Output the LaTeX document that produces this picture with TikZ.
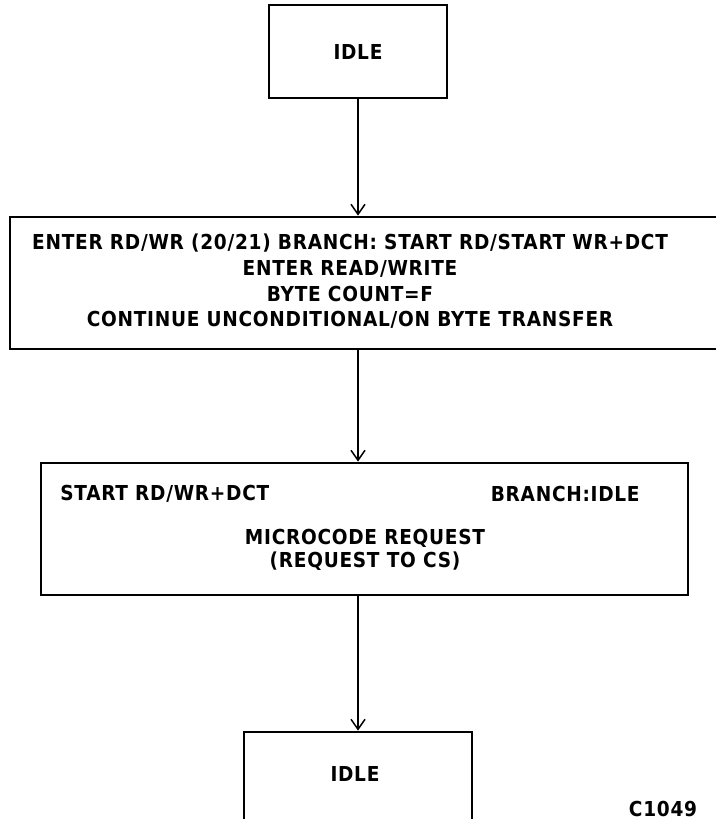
\documentclass[tikz,border=0pt]{standalone}
\usepackage{fontspec}
\setmainfont{DejaVu Sans Condensed}[LetterSpace=3.5,UprightFont=* Bold]
\usetikzlibrary{arrows.meta,positioning}
\tikzset{
  >={Straight Barb[length=5pt,width=7pt]},
  state/.style={draw,rectangle,line width=1.4pt,inner sep=0pt},
  txt/.style={font=\fontsize{10.3}{12.85}\selectfont,align=center,inner sep=0pt},
  flow/.style={->,line width=0.75pt},
}
\begin{document}
\begin{tikzpicture}[x=0.5pt,y=-0.5pt]
  \useasboundingbox (0,0) rectangle (716,819);
  \clip (0,0) rectangle (716,819);
  % states
  \node[state,minimum width=89pt,minimum height=46.5pt,txt] (idle) at (358,51.5) {IDLE};
  \node[state,minimum width=360pt,minimum height=66pt] (enter) at (370,283) {};
  \node[txt] (entertxt) at (350,281.5) {ENTER RD/WR (20/21) BRANCH: START RD/START WR+DCT\\
    ENTER READ/WRITE\\BYTE COUNT=F\\CONTINUE UNCONDITIONAL/ON BYTE TRANSFER};
  \node[state,minimum width=323.5pt,minimum height=66pt] (req) at (364.5,529) {};
  \node[txt,anchor=west] (start) at (60,494) {START RD/WR+DCT};
  \node[txt,anchor=east] (branch) at (640,494) {BRANCH:IDLE};
  \node[txt,font=\fontsize{10.3}{11.5}\selectfont] (reqtxt) at (365,549.5) {MICROCODE REQUEST\\(REQUEST TO CS)};
  \node[state,minimum width=114pt,minimum height=60pt] (idleB) at (358,792) {};
  \node[txt] (idleBtxt) at (355,774) {IDLE};
  \node[txt] (fig) at (663,809) {C1049};
  % transitions
  \draw[flow] (idle) -- (idle |- enter.north);
  \draw[flow] (enter.south -| idle) -- (idle |- req.north);
  \draw[flow] (req.south -| idle) -- (idleB);
\end{tikzpicture}
\end{document}
